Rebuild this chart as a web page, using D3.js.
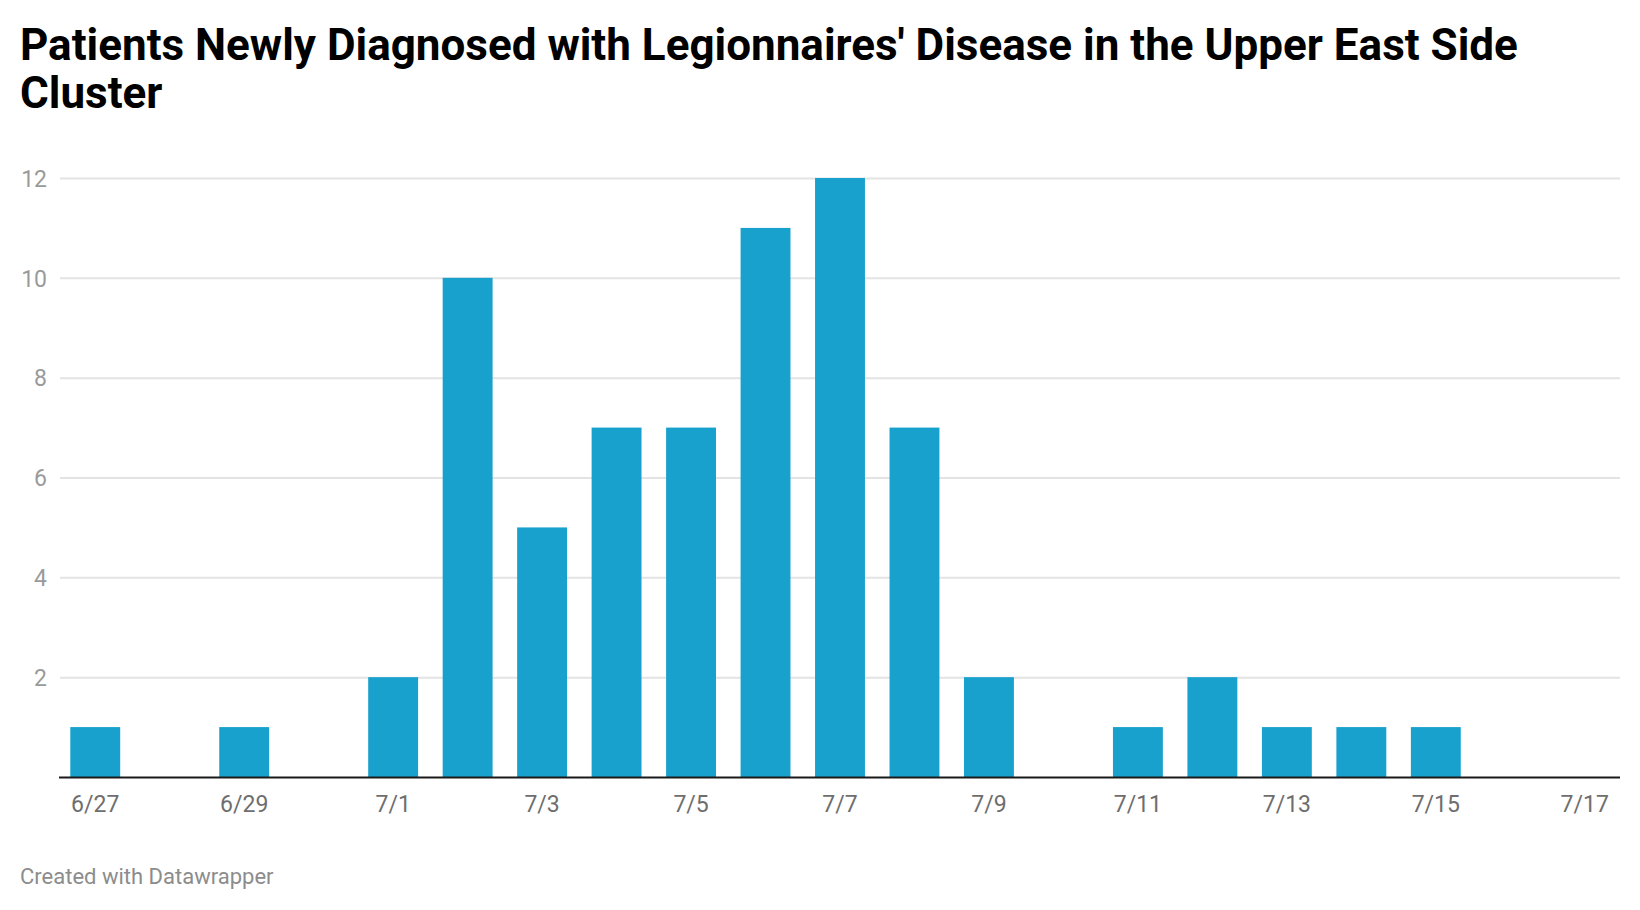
<!DOCTYPE html>
<html>
<head>
  <meta charset="utf-8">
  <title>Legionnaires' Disease - Upper East Side Cluster</title>
  <script src="https://d3js.org/d3.v7.min.js"></script>
  <style>
    body { margin: 0; background: #fff; }
    svg text { font-family: Roboto, "Noto Sans", sans-serif; }
  </style>
</head>
<body>
  <div id="chart"></div>
  <script>
    // one entry per day, 6/27 .. 7/17
    var days = ["6/27", "6/28", "6/29", "6/30", "7/1", "7/2", "7/3", "7/4", "7/5", "7/6",
                "7/7", "7/8", "7/9", "7/10", "7/11", "7/12", "7/13", "7/14", "7/15", "7/16", "7/17"];
    var patients = [1, 0, 1, 0, 2, 10, 5, 7, 7, 11, 12, 7, 2, 0, 1, 2, 1, 1, 1, 0, 0];
    var yTicks = [2, 4, 6, 8, 10, 12];
    var xTickLabels = ["6/27", "6/29", "7/1", "7/3", "7/5", "7/7", "7/9", "7/11", "7/13", "7/15", "7/17"];

    var width = 1640, height = 910;

    var svg = d3.select("#chart").append("svg")
      .attr("width", width)
      .attr("height", height);

    // title
    svg.append("text")
      .attr("x", 20).attr("y", 60)
      .style("font-size", "44px").style("font-weight", "bold").style("fill", "#000")
      .text("Patients Newly Diagnosed with Legionnaires' Disease in the Upper East Side");
    svg.append("text")
      .attr("x", 20).attr("y", 108)
      .style("font-size", "44px").style("font-weight", "bold").style("fill", "#000")
      .text("Cluster");

    var x = d3.scaleBand()
      .domain(days)
      .range([58, 1622])
      .paddingInner(0.33)
      .paddingOuter(0.165);

    var y = d3.scaleLinear()
      .domain([0, 12])
      .range([777, 178]);

    // grid lines + y labels
    var yAxis = d3.axisLeft(y)
      .tickValues(yTicks)
      .tickSize(-(1620 - 60))
      .tickPadding(13);

    var gy = svg.append("g")
      .attr("transform", "translate(60,0)")
      .call(yAxis);
    gy.select(".domain").remove();
    gy.selectAll(".tick line").attr("stroke", "#e3e3e3").attr("stroke-width", 2);
    gy.selectAll(".tick text")
      .style("font-size", "23px").style("fill", "#9a9a9a")
      .attr("dy", "0.36em");

    // bars
    svg.append("g").selectAll("rect")
      .data(patients)
      .join("rect")
      .attr("x", function (d, i) { return x(days[i]); })
      .attr("width", x.bandwidth())
      .attr("y", function (d) { return y(d); })
      .attr("height", function (d) { return y(0) - y(d); })
      .attr("fill", "#18a1cd");

    // baseline + x labels
    var xAxis = d3.axisBottom(x)
      .tickValues(xTickLabels)
      .tickSize(0)
      .tickPadding(19);

    var gx = svg.append("g")
      .attr("transform", "translate(0," + y(0) + ")")
      .call(xAxis);
    gx.select(".domain").remove();
    gx.selectAll(".tick text")
      .style("font-size", "23px").style("fill", "#6e6e6e");

    svg.append("line")
      .attr("x1", 59).attr("x2", 1620)
      .attr("y1", y(0) + 0.5).attr("y2", y(0) + 0.5)
      .attr("stroke", "#1a1a1a").attr("stroke-width", 2);

    // footer
    svg.append("text")
      .attr("x", 20).attr("y", 884)
      .style("font-size", "22px").style("fill", "#8c8c8c")
      .text("Created with Datawrapper");
  </script>
</body>
</html>
